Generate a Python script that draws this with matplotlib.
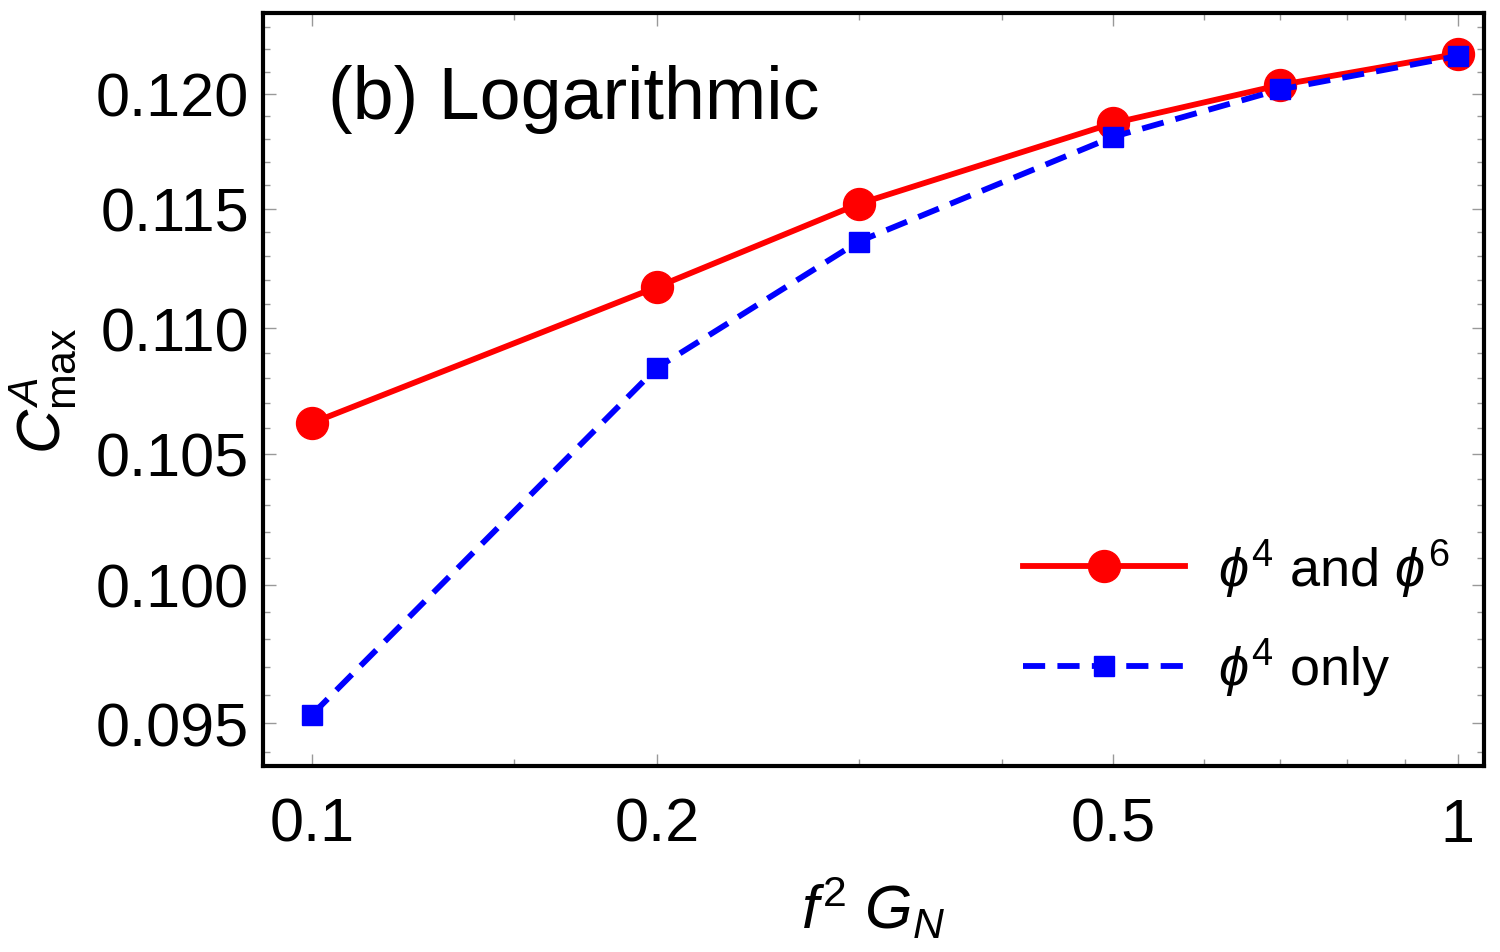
import numpy as np
import matplotlib.pyplot as plt
from matplotlib.ticker import FixedLocator, FixedFormatter, NullFormatter

plt.rcParams['font.family'] = ['Liberation Sans', 'DejaVu Sans']
plt.rcParams['mathtext.fontset'] = 'custom'
plt.rcParams['mathtext.rm'] = 'Liberation Sans'
plt.rcParams['mathtext.it'] = 'Liberation Sans:italic'

# data
x = [0.1, 0.2, 0.3, 0.5, 0.7, 1.0]
c_both = [0.1062, 0.1117, 0.1152, 0.1187, 0.1204, 0.1218]
c_phi4 = [0.0953, 0.1084, 0.1136, 0.1181, 0.1202, 0.1217]

xticks = [0.1, 0.2, 0.5, 1.0]
xticklabels = ['0.1', '0.2', '0.5', '1']
xminor = [0.15, 0.3, 0.4, 0.6, 0.7, 0.8, 0.9]
yticks = [0.095, 0.100, 0.105, 0.110, 0.115, 0.120]
yticklabels = ['0.095', '0.100', '0.105', '0.110', '0.115', '0.120']
yminor = [0.094 + 0.001 * i for i in range(31)]

fig = plt.figure(figsize=(15, 9.53), dpi=100)
ax = fig.add_axes([0.1753, 0.1952, 0.9893 - 0.1753, 0.9853 - 0.1952])

ax.plot(x, c_both, '-o', color='red', lw=4.2, ms=23, label=r'$\phi^4$ and $\phi^6$')
ax.plot(x, c_phi4, '--s', color='blue', lw=4.2, ms=15, dashes=(3.8, 2.1),
        label=r'$\phi^4$ only')

ax.set_xscale('log')
ax.set_yscale('log')
ax.set_xlim(0.0906, 1.054)
ax.set_ylim(0.0935, 0.12366)

ax.xaxis.set_major_locator(FixedLocator(xticks))
ax.xaxis.set_major_formatter(FixedFormatter(xticklabels))
ax.xaxis.set_minor_locator(FixedLocator(xminor))
ax.xaxis.set_minor_formatter(NullFormatter())
ax.yaxis.set_major_locator(FixedLocator(yticks))
ax.yaxis.set_major_formatter(FixedFormatter(yticklabels))
ax.yaxis.set_minor_locator(FixedLocator(yminor))
ax.yaxis.set_minor_formatter(NullFormatter())

ax.tick_params(which='both', direction='in', top=True, right=True, color='#999999', width=1)
ax.tick_params(which='major', length=9, labelsize=44)
ax.tick_params(which='minor', length=5)
ax.tick_params(axis='x', pad=22)
ax.tick_params(axis='y', pad=10)
for sp in ax.spines.values():
    sp.set_linewidth(3)

ax.set_xlabel(r'$f^2\ G_N$', fontsize=44, labelpad=16)
ax.set_ylabel(r'$C^A_{\mathrm{max}}$', fontsize=44, labelpad=12)

ax.text(0.053, 0.86, '(b) Logarithmic', transform=ax.transAxes, fontsize=53)

ax.legend(loc='lower right', fontsize=39, frameon=False, handlelength=3.0,
          handletextpad=0.6, borderaxespad=0.3, labelspacing=0.7,
          bbox_to_anchor=(1.003, 0.038))

fig.savefig('out.png', dpi=100)
